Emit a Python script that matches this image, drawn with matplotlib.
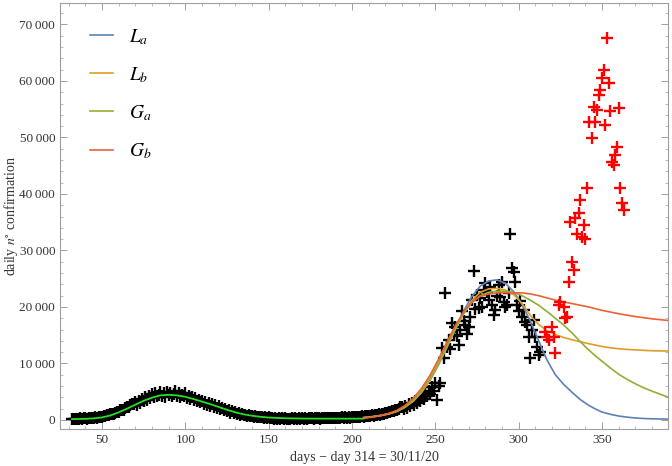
import matplotlib
matplotlib.use("Agg")
import matplotlib.pyplot as plt
from matplotlib.ticker import MultipleLocator, FuncFormatter

# black observations, one value per day starting at day 32
black_start = 32
black_vals = [
    120, 200, 150, 250, 180, 300, 220, 260, 310, 240, 350, 290, 400, 330, 450, 380, 520, 600,
    560, 700, 650, 850, 800, 1000, 1100, 1050, 1300, 1450, 1400, 1700, 1850, 1800, 2150, 2300,
    2250, 2600, 2750, 2900,
    3100, 2700, 3400, 3000, 3700, 3300, 4000, 3600, 4300, 3900, 4600, 4100, 4800, 4200, 4500,
    5000, 4300, 4700, 4100, 4900,
    4400, 4800, 4200, 4600, 5100, 4300, 4700, 4000, 4500, 4200, 4800, 3900, 4300, 3700, 4100,
    3500, 3900, 3300, 3600, 3100,
    3400, 2900, 3200, 2700, 3000, 2500, 2800, 2300, 2600, 2100, 2400, 1900, 2200, 1700, 1900,
    1500, 1700, 1300, 1500, 1200,
    1350, 1050, 1200, 950, 1100, 850, 950, 750, 850, 650, 750, 600, 700, 500, 600, 450, 550,
    400, 500, 350,
    450, 300, 420, 250, 380, 200, 350, 150, 300, 100, 280, 150, 250, 200, 300, 180, 260, 220,
    320, 200,
    280, 230, 340, 210, 300, 260, 350, 240, 310, 280, 360, 250, 330, 290, 380, 270, 350, 300,
    400, 320,
    380, 340, 420, 360, 450, 380, 480, 400, 500, 430, 520, 460, 560, 480, 600, 530, 650, 580,
    700, 620,
    750, 680, 820, 760, 900, 850, 1000, 950, 1100, 1050, 1250, 1200, 1400, 1350, 1550, 1500,
    1800, 1700, 2000, 2300,
    2300, 2000, 2500, 2200, 2800, 2500, 3000, 2700, 3300, 3000, 3600, 3400, 4000, 3700, 4700,
    4200, 5100, 4600, 5900, 5200,
    6600, 3500, 6000, 6500, 12700, 11000, 22400, 13000, 14200, 12500, 17100, 15000, 16400,
    14800, 13300, 15900, 19200, 17500, 16800, 15300,
    16500, 18300, 21200, 26300, 19600, 22100, 19800, 21500, 20000, 23000, 24200, 22700, 21300,
    23600, 20400, 18600, 19500, 22000, 23900, 21800,
    24500, 20900, 20000, 20300, 22500, 33000, 26900, 26200, 24500, 20300, 19200, 21000, 18300,
    19500, 17400, 16800, 14700, 10900, 16000, 17700,
    14700, 13000, 11500, 12100,
]
black_days = list(range(black_start, black_start + len(black_vals)))

# red observations
red_days = [316, 317, 318, 320, 321, 322, 324, 325, 327, 328, 329, 330, 331, 332, 333, 334,
            335, 336, 337, 338, 339, 340, 341, 342, 344, 345, 346, 347, 348, 349, 350, 351,
            352, 353, 354, 355, 356, 357, 358, 359, 360, 361, 362, 363]
red_vals = [15600, 14700, 14200, 16500, 14700, 11800, 20400, 20900, 20050, 18000, 18300,
            24500, 35100, 28000, 26550, 35700, 33000, 36600, 38900, 32400, 34500, 32000,
            41000, 52800, 49900, 55400, 52800, 54900, 57500, 58400, 60500, 61900, 52200,
            67600, 59600, 54600, 45700, 45200, 46900, 48400, 55200, 41000, 38400, 37200]

# first wave fit (green)
wave1_days = [32, 40, 45, 50, 55, 60, 65, 70, 75, 80, 85, 90, 95, 100, 105, 110, 115, 120,
              125, 130, 135, 140, 145, 150, 160, 170, 180, 190, 207]
wave1_fit = [150, 200, 280, 450, 800, 1350, 2000, 2700, 3400, 3950, 4350, 4450, 4350, 4100,
             3700, 3250, 2800, 2300, 1800, 1350, 1000, 750, 560, 430, 300, 250, 230, 230, 230]

# second wave fits
fit_days = [207, 212, 217, 222, 227, 232, 237, 242, 247, 252, 257, 262, 267, 272, 277, 282,
            287, 292, 297, 302, 307, 312, 317, 322, 327, 332, 337, 342, 346, 350, 355, 360,
            365, 370, 375, 380, 385, 390]
La = [450, 600, 800, 1100, 1550, 2300, 3400, 5000, 7100, 9800, 12900, 16200, 19300, 21900,
      23700, 24600, 24800, 24200, 22700, 20500, 17500, 14000, 10600, 8000, 6300, 4900, 3600,
      2600, 1950, 1400, 1000, 700, 500, 350, 260, 200, 170, 150]
Lb = [400, 550, 750, 1050, 1500, 2300, 3400, 5000, 7200, 9900, 12900, 16000, 18900, 21200,
      22600, 23200, 23300, 23000, 22200, 20600, 18500, 16900, 15800, 15100, 14600, 14200,
      13850, 13500, 13250, 13000, 12780, 12600, 12480, 12400, 12320, 12250, 12220, 12200]
Ga = [400, 550, 800, 1100, 1600, 2400, 3600, 5300, 7500, 10200, 13200, 16200, 18800, 20800,
      22000, 22600, 22800, 22800, 22600, 22000, 21200, 20300, 19200, 18000, 16800, 15400,
      13850, 12400, 11350, 10400, 9200, 8100, 7200, 6400, 5700, 5100, 4550, 4000]
Gb = [300, 500, 750, 1150, 1700, 2600, 3900, 5700, 8000, 10800, 13800, 16700, 19100, 20900,
      21900, 22300, 22500, 22500, 22500, 22500, 22300, 22000, 21600, 21200, 20900, 20600,
      20300, 20000, 19700, 19400, 19100, 18800, 18550, 18300, 18100, 17900, 17750, 17600]

plt.rcParams["font.family"] = ["Liberation Serif", "DejaVu Serif"]
plt.rcParams["mathtext.fontset"] = "stix"

fig = plt.figure(figsize=(6.72, 4.66), dpi=100)
ax = fig.add_axes([60 / 672, 37 / 466, 608 / 672, 426 / 466])

ax.plot(black_days, black_vals, "+", color="black", ms=9, mew=1.7, zorder=2)
ax.plot(wave1_days, wave1_fit, color="#22e022", lw=1.3, zorder=3)
ax.plot(fit_days, La, color="#5e81b5", lw=1.2, zorder=3, label="$L_a$")
ax.plot(fit_days, Lb, color="#e19c24", lw=1.2, zorder=3, label="$L_b$")
ax.plot(fit_days, Ga, color="#8fb032", lw=1.2, zorder=3, label="$G_a$")
ax.plot(fit_days, Gb, color="#eb6235", lw=1.2, zorder=3, label="$G_b$")
ax.plot(red_days, red_vals, "+", color="red", ms=9, mew=1.7, zorder=4)

ax.set_xlim(24.8, 389.6)
ax.set_ylim(-1600, 73800)

ax.xaxis.set_major_locator(MultipleLocator(50))
ax.xaxis.set_minor_locator(MultipleLocator(10))
ax.yaxis.set_major_locator(MultipleLocator(10000))
ax.yaxis.set_minor_locator(MultipleLocator(2000))
ax.yaxis.set_major_formatter(FuncFormatter(lambda v, p: f"{int(v):,}".replace(",", "\u2009")))

frame_col = "#a0a0a0"
for s in ax.spines.values():
    s.set_color(frame_col)
    s.set_linewidth(0.8)
ax.tick_params(which="both", direction="in", color=frame_col, top=True, right=True,
               labelsize=9.5, labelcolor="#333333")
ax.tick_params(which="major", length=5, width=0.7)
ax.tick_params(which="minor", length=2.5, width=0.5)

ax.set_xlabel("days \u2212 day 314 = 30/11/20", fontsize=10, color="#333333", labelpad=4)
ax.set_ylabel(r"daily $n^{\circ}$ confirmation", fontsize=10, color="#333333")
ax.yaxis.set_label_coords(-0.066, 0.5)

ax.legend(loc="upper left", bbox_to_anchor=(0.02, 0.985), frameon=False, fontsize=14,
          handlelength=1.2, labelspacing=0.95, handletextpad=0.8)

fig.savefig("out.png", dpi=100)
